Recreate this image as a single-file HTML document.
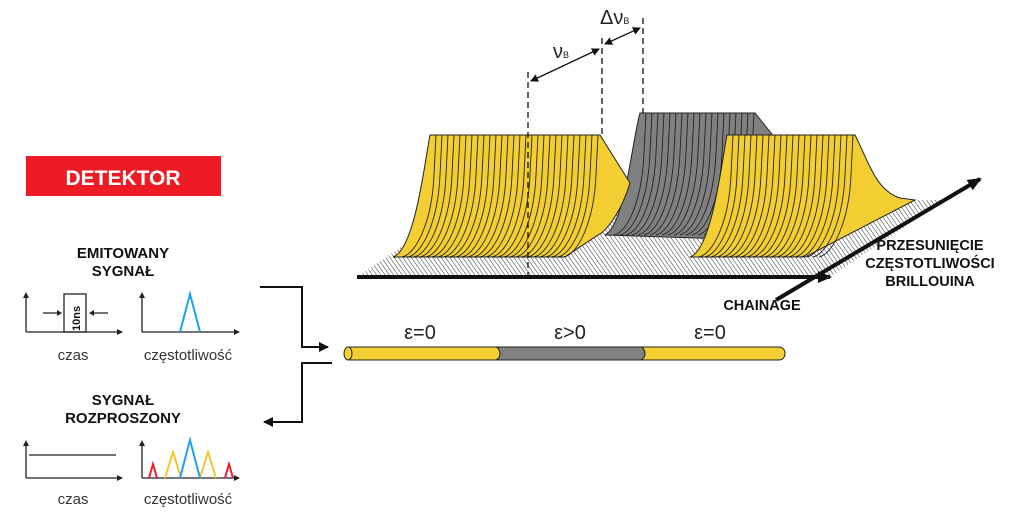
<!DOCTYPE html>
<html><head><meta charset="utf-8"><style>
body{margin:0;background:#fff;width:1024px;height:519px;overflow:hidden;font-family:"Liberation Sans",sans-serif}
</style></head><body>
<svg width="1024" height="519" viewBox="0 0 1024 519" xmlns="http://www.w3.org/2000/svg">
<defs>
<pattern id="h" width="3.5" height="3.5" patternUnits="userSpaceOnUse" patternTransform="rotate(-35)">
<rect width="3.5" height="3.5" fill="#fff"/><line x1="0" y1="0" x2="0" y2="3.5" stroke="#333" stroke-width="1"/>
</pattern>
<marker id="a" markerUnits="userSpaceOnUse" markerWidth="14" markerHeight="12" refX="12" refY="6" orient="auto"><path d="M0,0 L14,6 L0,12 Z" fill="#111"/></marker>
<marker id="a2" markerUnits="userSpaceOnUse" markerWidth="10" markerHeight="10" refX="9" refY="5" orient="auto"><path d="M0,0 L10,5 L0,10 Z" fill="#111"/></marker>
<marker id="s" markerUnits="userSpaceOnUse" markerWidth="8" markerHeight="8" refX="7" refY="4" orient="auto-start-reverse"><path d="M0,0 L8,4 L0,8 Z" fill="#111"/></marker>
</defs>
<path d="M357,277 L830,277 L945,200 L470,200 Z" fill="url(#h)"/>
<path d="M605,235 C625,225 632,140 640,113 L755,113 L775,138 L760,240 Z" fill="#808080" stroke="#222" stroke-width="1"/>
<g stroke="#222" stroke-width="0.9" fill="none" id="gl"></g>
<path d="M393,257 C415,250 425,160 430,135 L600,135 L630,183 C620,215 605,232 598,235 L565,257 Z" fill="#f3cf34" stroke="#222" stroke-width="1"/>
<g id="b1" stroke="#222" stroke-width="0.9" fill="none"></g>
<path d="M690,257 C712,250 722,160 727,135 L855,135 C868,160 875,190 900,198 L915,200 L805,257 Z" fill="#f3cf34" stroke="#222" stroke-width="1"/>
<g id="b3" stroke="#222" stroke-width="0.9" fill="none"></g>
<line x1="357" y1="277" x2="830" y2="277" stroke="#111" stroke-width="4" marker-end="url(#a)"/>
<line x1="776" y1="300" x2="980" y2="179" stroke="#111" stroke-width="4" marker-end="url(#a)"/>
<g stroke="#111" stroke-width="1.3" stroke-dasharray="6,4">
<line x1="528" y1="72" x2="528" y2="277"/><line x1="602" y1="38" x2="602" y2="135"/><line x1="643" y1="18" x2="643" y2="113"/>
</g>
<line x1="531" y1="81" x2="599" y2="49" stroke="#111" stroke-width="1.3" marker-start="url(#s)" marker-end="url(#s)"/>
<line x1="605" y1="44" x2="640" y2="28" stroke="#111" stroke-width="1.3" marker-start="url(#s)" marker-end="url(#s)"/>
<text x="553" y="58" font-size="20" fill="#222">ν<tspan font-size="9">B</tspan></text>
<text x="600" y="24" font-size="20" fill="#222">Δν<tspan font-size="9">B</tspan></text>
<g font-size="14.5" font-weight="bold" text-anchor="middle" fill="#111">
<text x="930" y="250">PRZESUNIĘCIE</text>
<text x="930" y="268">CZĘSTOTLIWOŚCI</text>
<text x="930" y="286">BRILLOUINA</text>
<text x="762" y="310">CHAINAGE</text></g>
<rect x="345" y="347" width="440" height="13" rx="6" fill="#f3cf34" stroke="#222"/>
<path d="M495,347 L640,347 A5,6.5 0 0 1 640,360 L495,360 A5,6.5 0 0 0 495,347Z" fill="#808080" stroke="#222"/>
<ellipse cx="348" cy="353.5" rx="4" ry="6.5" fill="#f3cf34" stroke="#222"/>
<g font-size="20" fill="#222" text-anchor="middle"><text x="420" y="339">ε=0</text><text x="570" y="339">ε&gt;0</text><text x="710" y="339">ε=0</text></g>
<rect x="26" y="156" width="195" height="40" fill="#ed1c24"/>
<text x="123" y="185" font-size="21" font-weight="bold" fill="#fff" text-anchor="middle">DETEKTOR</text>
<g font-size="15" font-weight="bold" fill="#111" text-anchor="middle">
<text x="123" y="258">EMITOWANY</text><text x="123" y="276">SYGNAŁ</text>
<text x="123" y="405">SYGNAŁ</text><text x="123" y="423">ROZPROSZONY</text></g>
<g stroke="#222" stroke-width="1.3" fill="none">
<path d="M26,332 L26,295 M26,332 L120,332 M142,332 L142,295 M142,332 L238,332"/>
<path d="M26,478 L26,443 M26,478 L120,478 M142,478 L142,443 M142,478 L238,478"/>
<rect x="64" y="294" width="22" height="38"/>
<path d="M43,313 L58,313 M108,313 L93,313"/>
<path d="M29,455 L116,455"/>
</g>
<g fill="#222"><path d="M26,292 l-3,6 h6z M142,292 l-3,6 h6z M123,332 l-6,-3 v6z M240,332 l-6,-3 v6z M26,440 l-3,6 h6z M142,440 l-3,6 h6z M123,478 l-6,-3 v6z M240,478 l-6,-3 v6z M62,313 l-5,-3 v6z M89,313 l5,-3 v6z"/></g>
<text x="0" y="0" font-size="11" font-weight="bold" fill="#111" transform="translate(80,331) rotate(-90)">10ns</text>
<path d="M180,332 L190,294 L200,332" stroke="#1aa3e8" stroke-width="2" fill="none"/>
<path d="M149,478 L153,464 L157,478 M225,478 L229,464 L233,478" stroke="#e8202a" stroke-width="2" fill="none"/>
<path d="M165,478 L173,452 L181,478 M200,478 L208,452 L216,478" stroke="#f3c72c" stroke-width="2" fill="none"/>
<path d="M180,478 L190,440 L200,478" stroke="#1aa3e8" stroke-width="2" fill="none"/>
<g font-size="15" fill="#333" text-anchor="middle"><text x="73" y="360">czas</text><text x="188" y="360">częstotliwość</text>
<text x="73" y="504">czas</text><text x="188" y="504">częstotliwość</text></g>
<path d="M260,287 L302,287 L302,347 L328,347" stroke="#111" stroke-width="2" fill="none" marker-end="url(#a2)"/>
<path d="M332,363 L302,363 L302,422 L264,422" stroke="#111" stroke-width="2" fill="none" marker-end="url(#a2)"/>
</svg>
<script>
function lines(id,x0,x1,base,top,w){var g=document.getElementById(id),s='';for(var d=0;x0+d<=x1;d+=6){var x=x0+d;s+='<path d="M'+(x-w)+','+base+' C'+(x-w+14)+','+(base-3)+' '+(x-4)+','+(base-35)+' '+(x-2)+','+(top+40)+' L'+x+','+top+'"/>';}g.innerHTML=s;}
lines('gl',646,755,235,113,32);
lines('b1',436,600,257,135,34);
lines('b3',733,855,257,135,34);
</script>
</body></html>
